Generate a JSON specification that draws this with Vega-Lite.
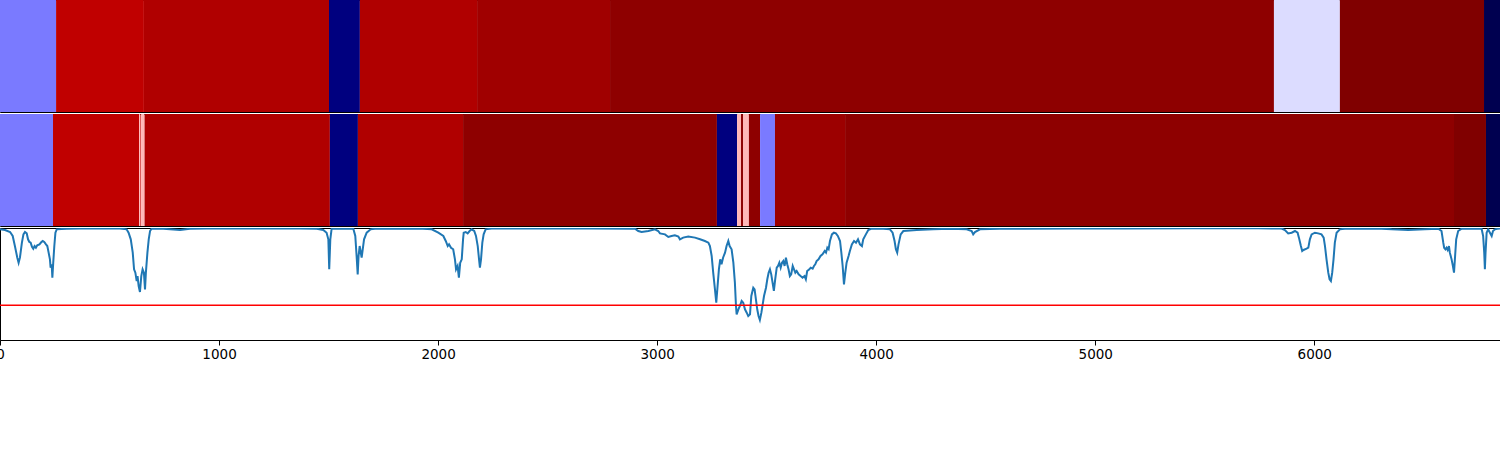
{
  "$schema": "https://vega.github.io/schema/vega-lite/v6.json",
  "padding": {"left": -5, "top": -1, "right": 0, "bottom": 0},
  "spacing": 0,
  "background": "white",
  "config": {
    "view": {"stroke": "black", "strokeWidth": 1},
    "axis": {"grid": false}
  },
  "datasets": {
    "top": [
      {"a":0,"b":256,"v":0.37},{"a":256,"b":657,"v":0.873},{"a":657,"b":1502,"v":0.905},{"a":1502,"b":1643,"v":0.071},{"a":1643,"b":2178,"v":0.905},{"a":2178,"b":2785,"v":0.936},{"a":2785,"b":5816,"v":0.971},{"a":5816,"b":6117,"v":0.466},{"a":6117,"b":6775,"v":0.999},{"a":6775,"b":6848,"v":0.005}
    ],
    "mid": [
      {"a":0,"b":242,"v":0.37},{"a":242,"b":635,"v":0.873},{"a":635,"b":641,"v":0.57},{"a":641,"b":644,"v":0.873},{"a":644,"b":660,"v":0.57},{"a":660,"b":1506,"v":0.905},{"a":1506,"b":1634,"v":0.071},{"a":1634,"b":2114,"v":0.905},{"a":2114,"b":3273,"v":0.971},{"a":3273,"b":3365,"v":0.071},{"a":3365,"b":3383,"v":0.57},{"a":3383,"b":3392,"v":0.971},{"a":3392,"b":3419,"v":0.57},{"a":3419,"b":3470,"v":0.971},{"a":3470,"b":3538,"v":0.37},{"a":3538,"b":3858,"v":0.944},{"a":3858,"b":6638,"v":0.971},{"a":6638,"b":6784,"v":0.999},{"a":6784,"b":6848,"v":0.005}
    ],
    "thr": [{"t": 0.31}],
    "sig": [
      {"x":0,"y":0.988},{"x":23,"y":0.982},{"x":46,"y":0.964},{"x":58,"y":0.929},{"x":68,"y":0.839},{"x":79,"y":0.735},{"x":85,"y":0.69},{"x":91,"y":0.735},{"x":100,"y":0.869},{"x":107,"y":0.943},{"x":114,"y":0.964},{"x":122,"y":0.952},{"x":128,"y":0.899},{"x":134,"y":0.875},{"x":140,"y":0.869},{"x":146,"y":0.833},{"x":152,"y":0.815},{"x":158,"y":0.839},{"x":164,"y":0.824},{"x":170,"y":0.845},{"x":180,"y":0.854},{"x":189,"y":0.875},{"x":195,"y":0.884},{"x":202,"y":0.875},{"x":210,"y":0.854},{"x":216,"y":0.839},{"x":222,"y":0.78},{"x":228,"y":0.72},{"x":231,"y":0.646},{"x":236,"y":0.676},{"x":239,"y":0.557},{"x":243,"y":0.69},{"x":248,"y":0.839},{"x":253,"y":0.958},{"x":259,"y":0.988},{"x":304,"y":0.994},{"x":365,"y":0.996},{"x":457,"y":0.996},{"x":548,"y":0.996},{"x":578,"y":0.988},{"x":587,"y":0.958},{"x":597,"y":0.899},{"x":606,"y":0.78},{"x":612,"y":0.631},{"x":618,"y":0.601},{"x":624,"y":0.527},{"x":628,"y":0.571},{"x":633,"y":0.482},{"x":639,"y":0.429},{"x":645,"y":0.571},{"x":651,"y":0.631},{"x":657,"y":0.601},{"x":662,"y":0.452},{"x":666,"y":0.601},{"x":673,"y":0.78},{"x":679,"y":0.899},{"x":685,"y":0.973},{"x":692,"y":0.994},{"x":730,"y":0.996},{"x":776,"y":0.988},{"x":822,"y":0.982},{"x":867,"y":0.994},{"x":943,"y":0.996},{"x":1065,"y":0.996},{"x":1217,"y":0.996},{"x":1370,"y":0.996},{"x":1446,"y":0.994},{"x":1476,"y":0.982},{"x":1491,"y":0.958},{"x":1499,"y":0.899},{"x":1503,"y":0.631},{"x":1508,"y":0.899},{"x":1514,"y":0.994},{"x":1613,"y":0.994},{"x":1622,"y":0.929},{"x":1628,"y":0.75},{"x":1633,"y":0.586},{"x":1637,"y":0.75},{"x":1642,"y":0.839},{"x":1646,"y":0.795},{"x":1651,"y":0.735},{"x":1656,"y":0.81},{"x":1662,"y":0.899},{"x":1674,"y":0.958},{"x":1692,"y":0.988},{"x":1712,"y":0.994},{"x":1910,"y":0.995},{"x":1971,"y":0.988},{"x":2001,"y":0.958},{"x":2024,"y":0.929},{"x":2035,"y":0.884},{"x":2044,"y":0.839},{"x":2050,"y":0.854},{"x":2059,"y":0.824},{"x":2069,"y":0.81},{"x":2077,"y":0.72},{"x":2082,"y":0.631},{"x":2089,"y":0.661},{"x":2095,"y":0.557},{"x":2101,"y":0.69},{"x":2108,"y":0.72},{"x":2114,"y":0.899},{"x":2117,"y":0.958},{"x":2126,"y":0.964},{"x":2135,"y":0.952},{"x":2144,"y":0.973},{"x":2153,"y":0.988},{"x":2165,"y":0.973},{"x":2173,"y":0.929},{"x":2181,"y":0.839},{"x":2187,"y":0.72},{"x":2191,"y":0.646},{"x":2196,"y":0.72},{"x":2202,"y":0.869},{"x":2208,"y":0.943},{"x":2217,"y":0.988},{"x":2244,"y":0.995},{"x":2473,"y":0.995},{"x":2701,"y":0.995},{"x":2899,"y":0.994},{"x":2914,"y":0.973},{"x":2929,"y":0.964},{"x":2960,"y":0.973},{"x":2990,"y":0.988},{"x":3005,"y":0.973},{"x":3013,"y":0.952},{"x":3036,"y":0.943},{"x":3051,"y":0.92},{"x":3066,"y":0.929},{"x":3081,"y":0.935},{"x":3097,"y":0.923},{"x":3104,"y":0.899},{"x":3119,"y":0.914},{"x":3142,"y":0.923},{"x":3173,"y":0.914},{"x":3196,"y":0.899},{"x":3218,"y":0.884},{"x":3234,"y":0.869},{"x":3241,"y":0.839},{"x":3249,"y":0.75},{"x":3256,"y":0.601},{"x":3264,"y":0.452},{"x":3270,"y":0.333},{"x":3276,"y":0.482},{"x":3282,"y":0.631},{"x":3288,"y":0.72},{"x":3294,"y":0.676},{"x":3301,"y":0.735},{"x":3310,"y":0.78},{"x":3317,"y":0.839},{"x":3325,"y":0.884},{"x":3331,"y":0.839},{"x":3340,"y":0.81},{"x":3348,"y":0.69},{"x":3355,"y":0.512},{"x":3360,"y":0.304},{"x":3363,"y":0.229},{"x":3371,"y":0.274},{"x":3378,"y":0.304},{"x":3386,"y":0.348},{"x":3393,"y":0.333},{"x":3401,"y":0.274},{"x":3409,"y":0.244},{"x":3416,"y":0.214},{"x":3424,"y":0.229},{"x":3430,"y":0.393},{"x":3439,"y":0.467},{"x":3445,"y":0.452},{"x":3451,"y":0.363},{"x":3457,"y":0.274},{"x":3463,"y":0.214},{"x":3469,"y":0.179},{"x":3476,"y":0.244},{"x":3482,"y":0.318},{"x":3488,"y":0.393},{"x":3497,"y":0.467},{"x":3503,"y":0.542},{"x":3509,"y":0.601},{"x":3515,"y":0.631},{"x":3521,"y":0.586},{"x":3527,"y":0.512},{"x":3533,"y":0.438},{"x":3539,"y":0.542},{"x":3546,"y":0.646},{"x":3552,"y":0.661},{"x":3558,"y":0.69},{"x":3564,"y":0.646},{"x":3570,"y":0.69},{"x":3576,"y":0.705},{"x":3582,"y":0.661},{"x":3588,"y":0.735},{"x":3594,"y":0.676},{"x":3600,"y":0.631},{"x":3606,"y":0.571},{"x":3612,"y":0.586},{"x":3619,"y":0.661},{"x":3625,"y":0.631},{"x":3631,"y":0.601},{"x":3637,"y":0.616},{"x":3646,"y":0.586},{"x":3655,"y":0.571},{"x":3664,"y":0.557},{"x":3673,"y":0.571},{"x":3679,"y":0.542},{"x":3685,"y":0.616},{"x":3695,"y":0.631},{"x":3701,"y":0.646},{"x":3710,"y":0.637},{"x":3716,"y":0.661},{"x":3722,"y":0.676},{"x":3728,"y":0.705},{"x":3737,"y":0.72},{"x":3746,"y":0.75},{"x":3755,"y":0.765},{"x":3765,"y":0.795},{"x":3771,"y":0.78},{"x":3777,"y":0.824},{"x":3783,"y":0.81},{"x":3789,"y":0.884},{"x":3798,"y":0.943},{"x":3807,"y":0.958},{"x":3816,"y":0.952},{"x":3825,"y":0.929},{"x":3835,"y":0.884},{"x":3841,"y":0.78},{"x":3847,"y":0.661},{"x":3853,"y":0.497},{"x":3859,"y":0.601},{"x":3865,"y":0.69},{"x":3874,"y":0.75},{"x":3880,"y":0.795},{"x":3889,"y":0.854},{"x":3899,"y":0.884},{"x":3908,"y":0.869},{"x":3917,"y":0.899},{"x":3926,"y":0.854},{"x":3935,"y":0.839},{"x":3941,"y":0.899},{"x":3953,"y":0.943},{"x":3964,"y":0.982},{"x":3979,"y":0.994},{"x":4032,"y":0.994},{"x":4063,"y":0.988},{"x":4075,"y":0.958},{"x":4084,"y":0.884},{"x":4090,"y":0.81},{"x":4096,"y":0.78},{"x":4102,"y":0.854},{"x":4112,"y":0.943},{"x":4124,"y":0.973},{"x":4185,"y":0.982},{"x":4261,"y":0.988},{"x":4337,"y":0.994},{"x":4413,"y":0.988},{"x":4436,"y":0.973},{"x":4443,"y":0.943},{"x":4451,"y":0.964},{"x":4474,"y":0.988},{"x":4565,"y":0.994},{"x":4679,"y":0.994},{"x":4907,"y":0.995},{"x":5136,"y":0.995},{"x":5440,"y":0.997},{"x":5744,"y":0.997},{"x":5851,"y":0.995},{"x":5866,"y":0.982},{"x":5881,"y":0.952},{"x":5897,"y":0.958},{"x":5912,"y":0.973},{"x":5924,"y":0.958},{"x":5930,"y":0.914},{"x":5939,"y":0.839},{"x":5945,"y":0.795},{"x":5951,"y":0.804},{"x":5965,"y":0.815},{"x":5973,"y":0.824},{"x":5980,"y":0.899},{"x":5988,"y":0.943},{"x":6003,"y":0.958},{"x":6018,"y":0.952},{"x":6033,"y":0.943},{"x":6043,"y":0.914},{"x":6049,"y":0.839},{"x":6056,"y":0.72},{"x":6064,"y":0.601},{"x":6070,"y":0.542},{"x":6076,"y":0.527},{"x":6082,"y":0.601},{"x":6088,"y":0.72},{"x":6094,"y":0.869},{"x":6102,"y":0.958},{"x":6117,"y":0.988},{"x":6140,"y":0.994},{"x":6307,"y":0.994},{"x":6353,"y":0.988},{"x":6429,"y":0.982},{"x":6505,"y":0.988},{"x":6566,"y":0.994},{"x":6581,"y":0.973},{"x":6589,"y":0.869},{"x":6593,"y":0.824},{"x":6599,"y":0.81},{"x":6604,"y":0.824},{"x":6609,"y":0.804},{"x":6615,"y":0.839},{"x":6619,"y":0.78},{"x":6627,"y":0.72},{"x":6633,"y":0.661},{"x":6638,"y":0.601},{"x":6642,"y":0.72},{"x":6648,"y":0.899},{"x":6657,"y":0.973},{"x":6673,"y":0.994},{"x":6764,"y":0.994},{"x":6771,"y":0.929},{"x":6776,"y":0.78},{"x":6779,"y":0.631},{"x":6782,"y":0.78},{"x":6787,"y":0.958},{"x":6794,"y":0.988},{"x":6802,"y":0.958},{"x":6810,"y":0.929},{"x":6816,"y":0.973},{"x":6825,"y":0.988},{"x":6835,"y":0.994},{"x":6848,"y":0.995}
    ]
  },
  "vconcat": [
    {
      "width": 1500,
      "height": 112,
      "data": {"name": "top"},
      "mark": {"type": "rect"},
      "encoding": {
        "x": {"field": "a", "type": "quantitative", "scale": {"domain": [0, 6848], "nice": false, "zero": false}, "axis": null},
        "x2": {"field": "b"},
        "color": {"field": "v", "type": "quantitative", "scale": {"domain": [0, 0.25, 0.5, 0.75, 1], "range": ["#00004c", "#0000ff", "#ffffff", "#ff0000", "#7f0000"], "interpolate": "rgb"}, "legend": null}
      }
    },
    {
      "width": 1500,
      "height": 112,
      "data": {"name": "mid"},
      "mark": {"type": "rect"},
      "encoding": {
        "x": {"field": "a", "type": "quantitative", "scale": {"domain": [0, 6848], "nice": false, "zero": false}, "axis": null},
        "x2": {"field": "b"},
        "color": {"field": "v", "type": "quantitative", "scale": {"domain": [0, 0.25, 0.5, 0.75, 1], "range": ["#00004c", "#0000ff", "#ffffff", "#ff0000", "#7f0000"], "interpolate": "rgb"}, "legend": null}
      }
    },
    {
      "width": 1500,
      "height": 112,
      "layer": [
        {
          "data": {"name": "sig"},
          "mark": {"type": "line", "color": "#1f77b4", "strokeWidth": 2, "clip": true},
          "encoding": {
            "x": {"field": "x", "type": "quantitative", "scale": {"domain": [0, 6848], "nice": false, "zero": false},
              "axis": {"title": null, "values": [0, 1000, 2000, 3000, 4000, 5000, 6000], "format": "d", "labelFont": "DejaVu Sans", "labelFontSize": 13.5, "labelColor": "black", "tickColor": "black", "domainColor": "black", "tickSize": 5, "labelPadding": 2, "grid": false, "labelFlush": false, "labelOverlap": false}},
            "y": {"field": "y", "type": "quantitative", "scale": {"domain": [0, 1], "nice": false, "zero": false}, "axis": null}
          }
        },
        {
          "data": {"name": "thr"},
          "mark": {"type": "rule", "color": "#ff0000", "strokeWidth": 1.5},
          "encoding": {
            "y": {"field": "t", "type": "quantitative"}
          }
        }
      ]
    }
  ]
}
